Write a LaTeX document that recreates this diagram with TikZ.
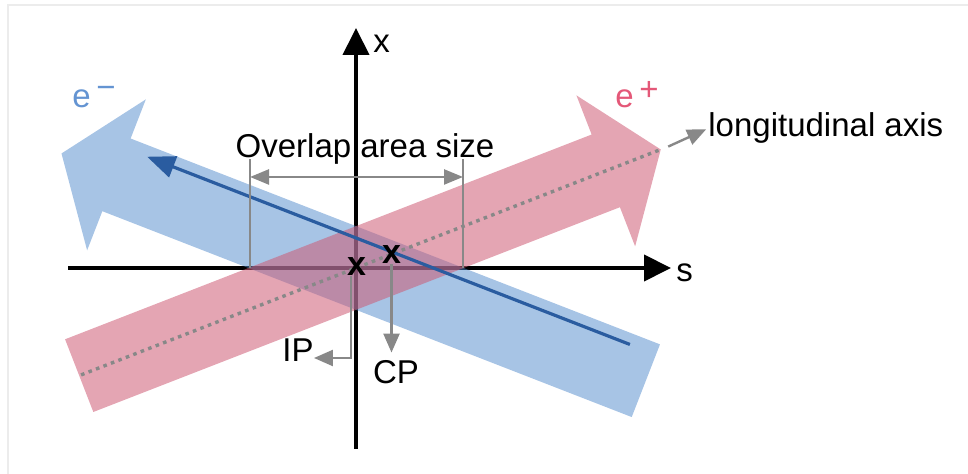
\documentclass[tikz,border=0pt]{standalone}
\usepackage{fontspec}
\setmainfont{Liberation Sans}
\usetikzlibrary{positioning, calc, arrows.meta}

\definecolor{beamblue}{RGB}{79,137,203}
\definecolor{beampink}{RGB}{206,91,117}
\definecolor{lineblue}{RGB}{42,92,160}
\definecolor{dimgray}{RGB}{136,136,136}
\definecolor{eminus}{RGB}{100,148,210}
\definecolor{eplus}{RGB}{228,88,120}
\definecolor{framegray}{RGB}{236,236,236}

\begin{document}
\begin{tikzpicture}[x=0.5pt, y=-0.5pt,
    lbl/.style={inner sep=0pt, font=\fontsize{16.5}{20}\selectfont},
    marker/.style={inner sep=0pt, font=\fontsize{17}{17}\selectfont\bfseries},
    axis/.style={line width=2pt, -{Triangle[length=13.5pt, width=13pt]}},
    grayarrow/.style={dimgray, line width=1.2pt, -{Triangle[length=9.5pt, width=8pt]}},
    beam/.style={draw=none, fill opacity=0.55}]
    \useasboundingbox (0,0) rectangle (968,474);

    % Frame
    \draw[framegray, line width=0.6pt] (8,474) -- (8,5) -- (968,5);

    % Axes
    \coordinate (O) at (356,268);
    \coordinate (xbot) at (356,449);
    \coordinate (xtop) at (356,28);
    \coordinate (sleft) at (68,268);
    \coordinate (sright) at (671,268);
    \draw[axis] (xbot) -- (xtop);
    \draw[axis] (sleft) -- (sright);
    \node[lbl, anchor=base west] (xlab) at (373,53) {x};
    \node[lbl, anchor=base west] (slab) at (676,282) {s};

    % Electron beam (e-)
    \begin{scope}[shift={(O)}, rotate=158.75]
        \fill[beam, beamblue, fill opacity=0.5] (-311,-39) -- (257,-39) -- (257,-81) -- (316,0)
            -- (257,81) -- (257,39) -- (-311,39) -- cycle;
        \coordinate (blueA) at (-283,28);
        \coordinate (blueB) at (235,28);
    \end{scope}

    % Positron beam (e+)
    \begin{scope}[shift={(O)}, rotate=21.25]
        \fill[beam, beampink] (-297,-39) -- (268,-39) -- (268,-81) -- (327,0)
            -- (268,81) -- (268,39) -- (-297,39) -- cycle;
        \coordinate (lonA) at (-295,0);
        \coordinate (lonB) at (327,0);
        \coordinate (lonC) at (335,0);
    \end{scope}

    % Longitudinal axis and electron path
    \draw[dimgray, line width=1.7pt, dash pattern=on 1.8pt off 2.2pt] (lonA) -- (lonB);
    \draw[lineblue, line width=1.6pt, -{Triangle[length=14pt, width=11pt]}] (blueA) -- (blueB);

    % Overlap area size
    \coordinate (ovL) at (250,268);
    \coordinate (ovR) at (463,268);
    \coordinate (ovLt) at (250,159);
    \coordinate (ovRt) at (463,159);
    \draw[dimgray, line width=0.8pt] (ovL) -- (ovLt) (ovR) -- (ovRt);
    \draw[grayarrow, {Triangle[length=9.5pt, width=7.5pt]}-{Triangle[length=9.5pt, width=7.5pt]}]
        ($(ovL)!0.835!(ovLt)$) -- ($(ovR)!0.835!(ovRt)$);
    \node[lbl, anchor=base] (ovlab) at (365,158) {Overlap area size};

    % IP and CP
    \node[marker] (ip) at (356.5,266.5) {x};
    \node[marker] (cp) at (391.5,255) {x};
    \node[lbl, anchor=base west] (iplab) at (282,362) {IP};
    \node[lbl, anchor=base] (cplab) at (396,384) {CP};
    \coordinate (ipcorner) at (351,358);
    \draw[grayarrow] (ipcorner |- ip.south) -- (ipcorner) -- (ipcorner -| iplab.east);
    \draw[grayarrow, shorten >=4pt] (cp.south) -- (cp.south |- cplab.north);

    % Labels
    \node[lbl, anchor=base west] (lonlab) at (708,137) {longitudinal axis};
    \draw[grayarrow, shorten >=1pt] (lonC) -- (lonlab.west);
    \node[lbl, eminus, anchor=base west] (elab) at (72,108) {e\,\raisebox{4.5pt}{−}};
    \node[lbl, eplus, anchor=base west] (plab) at (615,108) {e\,\raisebox{3.5pt}{+}};
\end{tikzpicture}
\end{document}
